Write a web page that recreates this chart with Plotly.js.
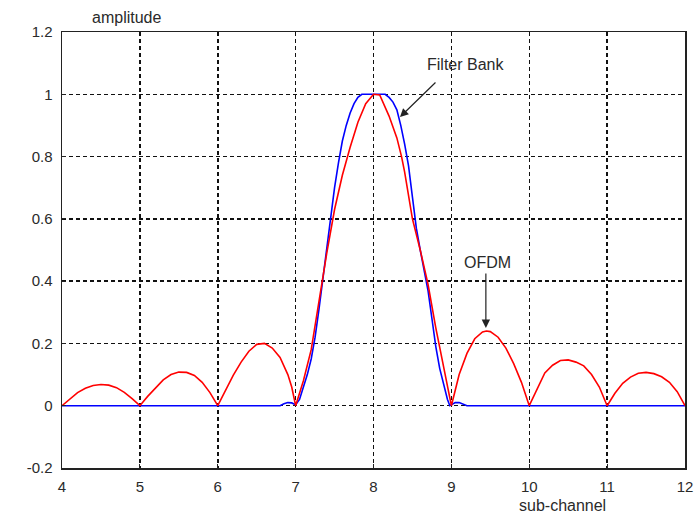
<!DOCTYPE html>
<html>
<head>
<meta charset="utf-8">
<script src="https://cdn.plot.ly/plotly-3.0.1.min.js"></script>
<style>html,body{margin:0;padding:0;background:#fff;}#chart{width:695px;height:514px;}</style>
</head>
<body>
<div id="chart"></div>
<script>
// OFDM (red) sub-channel amplitude
const ofdmX = [4,4.1,4.2,4.3,4.4,4.5,4.6,4.7,4.8,4.9,5,
  5.1,5.2,5.3,5.4,5.5,5.6,5.7,5.8,5.9,6,
  6.1,6.2,6.3,6.4,6.5,6.6,6.7,6.8,6.9,6.95,7,
  7.1,7.2,7.3,7.4,7.5,7.6,7.7,7.8,7.9,8,
  8.08,8.2,8.3,8.36,8.4,8.5,8.6,8.7,8.8,8.9,9,
  9.1,9.2,9.3,9.4,9.45,9.5,9.6,9.7,9.8,9.9,10,
  10.1,10.2,10.3,10.4,10.5,10.6,10.7,10.8,10.9,11,
  11.1,11.2,11.3,11.4,11.5,11.6,11.7,11.8,11.9,12];
const ofdmY = [0,0.022,0.042,0.056,0.065,0.068,0.066,0.058,0.043,0.023,0,
  0.03,0.058,0.083,0.1,0.108,0.107,0.097,0.075,0.042,0,
  0.05,0.098,0.14,0.175,0.197,0.2,0.185,0.155,0.1,0.06,0,
  0.08,0.18,0.34,0.49,0.63,0.74,0.83,0.91,0.97,1.0,
  0.998,0.93,0.86,0.8,0.75,0.6,0.5,0.39,0.25,0.12,0,
  0.1,0.168,0.215,0.237,0.24,0.238,0.22,0.185,0.135,0.075,0,
  0.055,0.105,0.13,0.145,0.147,0.14,0.128,0.1,0.06,0,
  0.04,0.072,0.092,0.104,0.107,0.103,0.093,0.075,0.045,0];

// Filter bank (blue) sub-channel amplitude
const fbX = [4,6.8,6.85,6.9,6.95,7.0,7.05,7.1,7.15,7.2,7.25,7.3,7.35,7.4,7.45,7.5,7.55,7.6,7.65,7.7,7.75,7.8,7.85,
  8.15,8.2,8.25,8.3,8.35,8.4,8.45,8.5,8.55,8.6,8.65,8.7,8.75,8.8,8.85,8.9,8.95,8.98,9.05,9.1,9.15,9.2,12];
const fbY = [0,0,0.006,0.01,0.009,0.003,0.02,0.06,0.1,0.15,0.22,0.31,0.41,0.51,0.61,0.7,0.78,0.85,0.9,0.94,0.97,0.99,1.0,
  1.0,0.99,0.975,0.95,0.9,0.84,0.77,0.67,0.57,0.5,0.44,0.37,0.28,0.19,0.12,0.07,0.02,0.0,0.01,0.01,0.006,0,0];

const xTicks = [4,5,6,7,8,9,10,11,12];
const yTicks = [-0.2,0,0.2,0.4,0.6,0.8,1,1.2];
const yTickText = ['-0.2','0','0.2','0.4','0.6','0.8','1','1.2'];

const traces = [
  {x: fbX, y: fbY, type: 'scatter', mode: 'lines', line: {color: '#0000ff', width: 1.6}, hoverinfo: 'skip'},
  {x: ofdmX, y: ofdmY, type: 'scatter', mode: 'lines', line: {color: '#ff0000', width: 1.6}, hoverinfo: 'skip'}
];

const tickFont = {family: 'Liberation Sans, Arial, sans-serif', size: 15, color: '#2a2a2a'};
const font = {family: 'Liberation Sans, Arial, sans-serif', size: 16, color: '#2a2a2a'};
const axisCommon = {
  showline: true, mirror: true, linecolor: '#222', linewidth: 1.5,
  showgrid: true, gridcolor: '#111', gridwidth: 1.5, griddash: '4px,3px',
  zeroline: false, ticks: 'inside', ticklen: 4, tickcolor: '#222',
  tickfont: tickFont, fixedrange: true
};

const layout = {
  width: 695, height: 514,
  margin: {l: 62, r: 10, t: 32, b: 46},
  paper_bgcolor: '#fff', plot_bgcolor: '#fff',
  showlegend: false,
  font: font,
  xaxis: Object.assign({}, axisCommon, {range: [4, 12], tickvals: xTicks, ticktext: xTicks.map(String), ticklabelstandoff: 4}),
  yaxis: Object.assign({}, axisCommon, {range: [-0.2, 1.2], tickvals: yTicks, ticktext: yTickText, ticklabelstandoff: 5}),
  annotations: [
    {xref: 'paper', yref: 'paper', x: 0.104, y: 1.034, text: 'amplitude', showarrow: false, font: font, xanchor: 'center', yanchor: 'middle'},
    {xref: 'paper', yref: 'paper', x: 0.804, y: -0.087, text: 'sub-channel', showarrow: false, font: font, xanchor: 'center', yanchor: 'middle'},
    {x: 9.186, y: 1.097, text: 'Filter Bank', showarrow: false, font: font, xanchor: 'center', yanchor: 'middle'},
    {x: 8.34, y: 0.927, text: '', showarrow: true, ax: 37, ay: -36, arrowhead: 2, arrowsize: 1.4, arrowwidth: 1.2, arrowcolor: '#222'},
    {x: 9.47, y: 0.46, text: 'OFDM', showarrow: false, font: font, xanchor: 'center', yanchor: 'middle'},
    {x: 9.443, y: 0.2495, text: '', showarrow: true, ax: 0, ay: -56, arrowhead: 2, arrowsize: 1.4, arrowwidth: 1.2, arrowcolor: '#222'}
  ]
};

Plotly.newPlot('chart', traces, layout, {staticPlot: true, displayModeBar: false});
</script>
</body>
</html>
